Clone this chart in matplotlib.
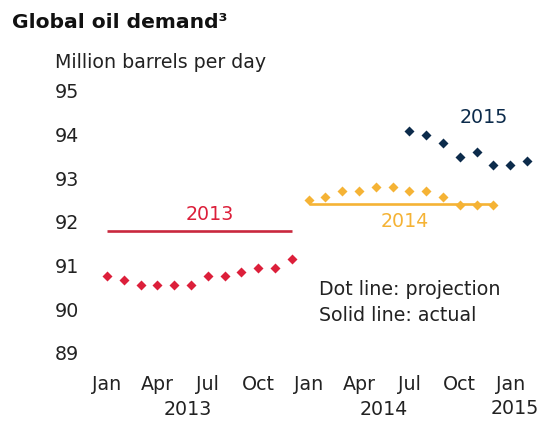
import matplotlib
matplotlib.use("Agg")
import matplotlib.pyplot as plt
import matplotlib.transforms as mtransforms

# Month index: 0 = Jan 2013
months_2013 = list(range(0, 12))
proj_2013 = [90.77, 90.68, 90.56, 90.56, 90.56, 90.56, 90.77, 90.77, 90.86, 90.95, 90.95, 91.16]
actual_2013 = 91.80

months_2014 = list(range(12, 24))
proj_2014 = [92.51, 92.57, 92.71, 92.71, 92.80, 92.80, 92.71, 92.71, 92.57, 92.39, 92.39, 92.39]
actual_2014 = 92.40

months_2015 = list(range(18, 26))
proj_2015 = [94.08, 93.99, 93.81, 93.49, 93.60, 93.31, 93.31, 93.40]

tick_pos = [0, 3, 6, 9, 12, 15, 18, 21, 24]
tick_labels = ["Jan", "Apr", "Jul", "Oct", "Jan", "Apr", "Jul", "Oct", "Jan"]
year_labels = ["2013", "2014"]
year_pos = [4.8, 16.5]
y_ticks = [89, 90, 91, 92, 93, 94, 95]

RED = "#DC1F3A"
RED_LINE = "#C9283E"
ORANGE = "#F5B335"
NAVY = "#0C2B4B"
TXT = "#222222"
FS = 13.7
MS = 5.6

plt.rcParams['font.family'] = ['DejaVu Sans']

fig = plt.figure(figsize=(5.4, 4.25), dpi=100)
ax = fig.add_axes([0.1852, 0.1412, 0.8056, 0.6706])

ax.plot([months_2013[0], months_2013[-1]], [actual_2013, actual_2013], color=RED_LINE, lw=1.9, solid_capstyle='butt')
ax.plot(months_2013, proj_2013, ls='none', marker='D', ms=MS, color=RED, mec='none')

ax.plot([months_2014[0], months_2014[-1]], [actual_2014, actual_2014], color=ORANGE, lw=1.9, solid_capstyle='butt')
ax.plot(months_2014, proj_2014, ls='none', marker='D', ms=MS, color=ORANGE, mec='none')

ax.plot(months_2015, proj_2015, ls='none', marker='D', ms=MS, color=NAVY, mec='none')

ax.set_xlim(-0.417, 25.48)
ax.set_ylim(88.725, 95.25)
for s in ax.spines.values():
    s.set_visible(False)

ax.set_yticks(y_ticks)
ax.set_yticklabels([str(v) for v in y_ticks])
ax.set_xticks(tick_pos)
ax.set_xticklabels(tick_labels)
ax.tick_params(axis='both', length=0, labelsize=FS, colors=TXT)
ax.tick_params(axis='y', pad=15)
ax.tick_params(axis='x', pad=7)

trans = mtransforms.blended_transform_factory(ax.transData, ax.transAxes)
for lab, xp in zip(year_labels, year_pos):
    ax.text(xp, -0.155, lab, transform=trans, ha='center', va='center', fontsize=FS, color=TXT)
fig.text(539/540, 1 - 409/425, "2015", ha='right', va='center', fontsize=FS, color=TXT)

ax.text(6.1, 92.16, "2013", color=RED, fontsize=FS, ha='center', va='center')
ax.text(17.7, 92.0, "2014", color=ORANGE, fontsize=FS, ha='center', va='center')
ax.text(22.4, 94.38, "2015", color=NAVY, fontsize=FS, ha='center', va='center')

ax.text(12.6, 90.45, "Dot line: projection", fontsize=FS, color=TXT, ha='left', va='center')
ax.text(12.6, 89.85, "Solid line: actual", fontsize=FS, color=TXT, ha='left', va='center')

fig.text(12/540, 1 - 22/425, "Global oil demand³", fontsize=14.6, fontweight='bold',
         ha='left', va='center', color='#111111')
fig.text(55/540, 1 - 62/425, "Million barrels per day", fontsize=FS, ha='left', va='center', color=TXT)

fig.savefig("out.png", dpi=100)
